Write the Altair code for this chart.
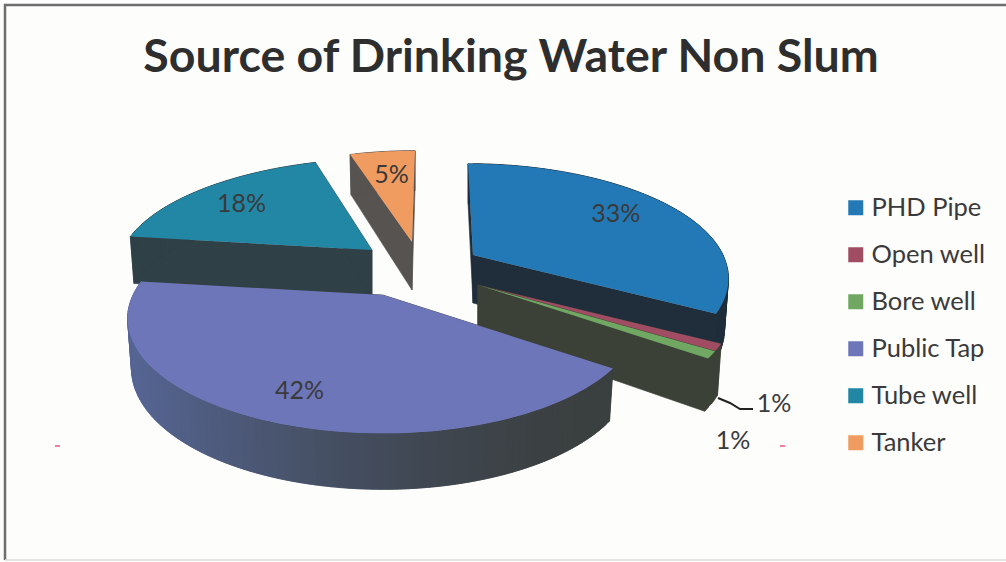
import math
import altair as alt

# Shares of drinking water sources, clockwise from twelve o'clock
sources = ["PHD Pipe", "Open well", "Bore well", "Public Tap", "Tube well", "Tanker"]
shares = [33, 1, 1, 42, 18, 5]

top_colors = ["#2379b6", "#a04c63", "#6fa763", "#6e76ba", "#2187a5", "#f09c60"]
# Side wall shades: (right end of the rim, left end of the rim)
wall_colors = [
    ("#1f2e3a", "#1f2e3a"),
    ("#3b4136", "#3b4136"),
    ("#3b4136", "#3b4136"),
    ("#3a3f3f", "#556593"),
    ("#2f4046", "#2f4046"),
    ("#565350", "#565350"),
]
# Exploded slice apexes in chart pixels
apexes = [(473, 255), (478, 285), (478, 285), (383, 295), (372, 250), (412, 242)]
# Horizontal drift of each slice's far edge, from the camera's perspective
far_lean = [-5, 0, 0, 0, 9, 3]
# Fine placement of the percentage labels
label_nudges = [(-7, -2), (0, 0), (0, 0), (-3, 6), (1, 2), (5, 4)]

W, H = 1006, 562
RADIUS_X, RADIUS_Y, PERSPECTIVE = 250, 110, 0.205
LABEL_RADIUS = 0.75
INK = "#3a3a3a"


def project(angle, radius=1.0, lean=0):
    """Disc position at a clockwise angle (degrees), as a screen offset with tilt."""
    a = math.radians(angle)
    u, v = radius * math.sin(a), radius * math.cos(a)
    s = 1 / (1 + PERSPECTIVE * v)
    return RADIUS_X * u * s + lean * max(v, 0) ** 2, -RADIUS_Y * v * s, v


def depth(v):
    return 48 - 8 * v


def blend(c1, c2, t):
    p = [int(c1[i:i + 2], 16) for i in (1, 3, 5)]
    q = [int(c2[i:i + 2], 16) for i in (1, 3, 5)]
    return "#%02x%02x%02x" % tuple(round(a + (b - a) * t) for a, b in zip(p, q))


def polygon(points, **props):
    ring = [list(p) for p in points] + [list(points[0])]
    return {"type": "Feature", "geometry": {"type": "Polygon", "coordinates": [ring]},
            "properties": props}


def line(points, **props):
    return {"type": "Feature", "geometry": {"type": "LineString", "coordinates": [list(p) for p in points]},
            "properties": props}


def wedge_faces(apex, start, end, colors, lean):
    """Side walls and top face of one slice, computed from its angular span."""
    ax, ay = apex
    n = max(2, int((end - start) / 1.5))
    angles = [start + (end - start) * i / n for i in range(n + 1)]
    rim = [project(t, lean=lean) for t in angles]
    top_rim = [(ax + x, ay + y) for x, y, _ in rim]
    low_rim = [(ax + 0.985 * x, ay + y + depth(v)) for x, y, v in rim]
    low_apex = (ax, ay + depth(0))

    walls = [
        # Cut faces from the apex out to each end of the arc
        polygon([apex, top_rim[0], low_rim[0], low_apex], shade=colors[0]),
        polygon([apex, top_rim[-1], low_rim[-1], low_apex], shade=colors[0]),
    ]
    # Outer wall: each shaded strip runs under the next one so no seams show
    for i in range(n):
        j = min(n, i + 2)
        x_mid = (rim[i][0] + rim[i + 1][0]) / 2
        t = (1 - min(1, max(0, (x_mid + 250) / 480))) ** 1.6
        walls.append(polygon([top_rim[i], top_rim[j], low_rim[j], low_rim[i]],
                             shade=blend(colors[0], colors[1], t)))
    top = polygon([apex] + top_rim)
    return walls, top


PROJECTION = dict(type="identity", scale=1, translate=[0, 0])

# Frame lines and the two stray flecks
frame = [
    line([(5, 560), (5, 5), (1006, 5)], stroke="#6e6e6e", width=2.5),
    line([(5, 560), (1006, 560)], stroke="#dcdcd8", width=1.5),
    line([(55, 446), (60, 446)], stroke="#e8597f", width=1.5),
    line([(780, 446), (785, 446)], stroke="#e8597f", width=1.5),
]
# Leader from the Open well slice to its label
leader = [line([(718, 398), (730, 403), (740, 409), (753, 409)], stroke="#222222", width=2)]

color_scale = alt.Scale(domain=sources, range=top_colors)
legend = alt.Legend(
    title=None, orient="none", legendX=843, legendY=195, symbolType="square",
    symbolSize=225, symbolStrokeWidth=0, labelFont="Lato", labelFontSize=25.5, labelColor=INK,
    rowPadding=20, labelOffset=3, labelLimit=200,
    labelExpr="datum.label === 'PHD Pipe' ? '\u00a0PHD Pipe' : datum.label",
    values=sources,
)


def stroke_layer(features):
    return alt.Chart(alt.Data(values=features)).mark_geoshape(filled=False).encode(
        stroke=alt.Stroke("properties.stroke:N", scale=None, legend=None),
        strokeWidth=alt.StrokeWidth("properties.width:Q", scale=None, legend=None),
    ).project(**PROJECTION)


layers = [stroke_layer(frame)]

# Angular span of every slice, in source order
spans = []
running = 0
for s in shares:
    spans.append((running * 3.6, (running + s) * 3.6))
    running += s

# Back-to-front painting order: Tanker, Tube well, PHD Pipe, Open well, Bore well, Public Tap
for idx in [5, 4, 0, 1, 2, 3]:
    walls, top = wedge_faces(apexes[idx], spans[idx][0], spans[idx][1], wall_colors[idx], far_lean[idx])
    top["properties"] = {"source": sources[idx]}
    layers.append(
        alt.Chart(alt.Data(values=walls)).mark_geoshape(strokeWidth=0.6).encode(
            fill=alt.Fill("properties.shade:N", scale=None, legend=None),
            stroke=alt.Stroke("properties.shade:N", scale=None, legend=None),
        ).project(**PROJECTION)
    )
    layers.append(
        alt.Chart(alt.Data(values=[top])).mark_geoshape(strokeWidth=0).encode(
            color=alt.Color("properties.source:N", scale=color_scale, legend=legend),
        ).project(**PROJECTION)
    )

layers.append(stroke_layer(leader))

# Percentage labels: inside the large slices, beside the two thin ones
label_rows = []
outside = {1: (774, 404), 2: (733, 441)}
for i, s in enumerate(shares):
    if i in outside:
        x, y = outside[i]
    else:
        mid = sum(spans[i]) / 2
        dx, dy, _ = project(mid, LABEL_RADIUS)
        x = apexes[i][0] + dx + label_nudges[i][0]
        y = apexes[i][1] + dy + label_nudges[i][1]
    label_rows.append({"x": x, "y": y, "text": f"{s}%"})

layers.append(
    alt.Chart(alt.Data(values=label_rows)).mark_text(
        font="Lato", fontSize=25, color=INK, baseline="middle", align="center"
    ).encode(
        x=alt.X("x:Q", scale=None, axis=None),
        y=alt.Y("y:Q", scale=None, axis=None),
        text="text:N",
    )
)

chart = alt.layer(*layers).properties(
    width=W,
    height=H,
    padding=0,
    autosize=alt.AutoSizeParams(type="none"),
    background="#fdfdfc",
    title=alt.TitleParams(
        "Source of Drinking Water Non Slum",
        font="Lato", fontSize=46.5, fontWeight="bold", color="#2e2e2e",
        anchor="middle", dx=8, dy=81, offset=0,
    ),
).configure_view(stroke=None)

chart.save("out.html", embed_options={"renderer": "svg", "actions": False})
